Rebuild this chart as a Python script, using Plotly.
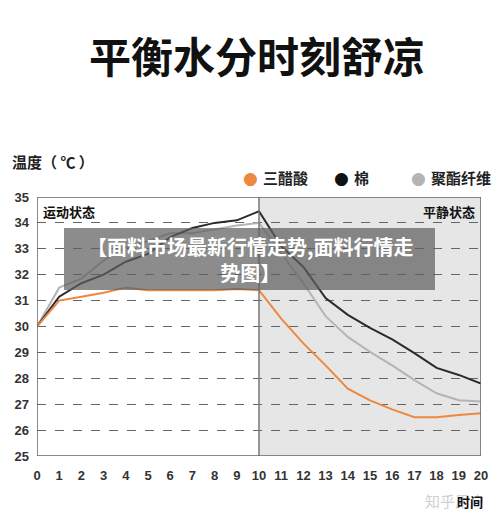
import plotly.graph_objects as go

time = list(range(0, 21))
triacetate = [30.0, 31.0, 31.15, 31.3, 31.5, 31.4, 31.4, 31.4, 31.4, 31.45, 31.4,
              30.3, 29.35, 28.5, 27.6, 27.15, 26.8, 26.5, 26.5, 26.58, 26.65]
cotton = [30.0, 31.15, 31.67, 32.0, 32.5, 32.8, 33.45, 33.8, 34.0, 34.1, 34.45,
          33.1, 32.3, 31.1, 30.45, 29.95, 29.5, 28.97, 28.4, 28.13, 27.8]
polyester = [30.0, 31.5, 31.85, 32.55, 33.05, 33.3, 33.6, 33.6, 33.75, 33.9, 34.0,
             32.85, 31.67, 30.4, 29.6, 29.02, 28.5, 27.93, 27.42, 27.15, 27.1]
series_names = ["三醋酸", "棉", "聚酯纤维"]
series_colors = ["#ec8840", "#2a2a2a", "#b4b4b4"]
y_ticks = list(range(25, 36))
x_ticks = list(range(0, 21))

FONT = "Noto Sans CJK SC"
W, H = 500, 520
L, R, T, B = 37, 19, 197, 64

fig = go.Figure()
fig.add_trace(go.Scatter(x=time, y=polyester, mode="lines",
                         line=dict(color=series_colors[2], width=2), name=series_names[2]))
fig.add_trace(go.Scatter(x=time, y=cotton, mode="lines",
                         line=dict(color=series_colors[1], width=2), name=series_names[1]))
fig.add_trace(go.Scatter(x=time, y=triacetate, mode="lines",
                         line=dict(color=series_colors[0], width=2), name=series_names[0]))


def px(x):
    return (x - L) / (W - L - R)


def py(y):
    return (H - B - y) / (H - T - B)


shapes = [
    dict(type="rect", xref="x", yref="y", x0=10, x1=20, y0=25, y1=35,
         fillcolor="#e6e6e6", line=dict(width=0), layer="below"),
    dict(type="line", xref="x", yref="y", x0=10, x1=10, y0=25, y1=35,
         line=dict(color="#777", width=1.5)),
    dict(type="rect", xref="x", yref="y", x0=0, x1=20, y0=25, y1=35,
         line=dict(color="#666", width=1.5)),
    dict(type="rect", xref="paper", yref="paper",
         x0=px(64), x1=px(435), y0=py(290), y1=py(228),
         fillcolor="rgba(95,95,95,0.72)", line=dict(width=0), layer="above"),
]


def A(text, x, y, size, color="#111", xanchor="center", family=FONT, align="center"):
    return dict(text=text, x=px(x), y=py(y), xref="paper", yref="paper",
                xanchor=xanchor, yanchor="middle", showarrow=False, align=align,
                font=dict(family=family, size=size, color=color))


ann = []
ann.append(A("<b>平衡水分时刻舒凉</b>", 257, 54, 42, "#111"))
ann.append(A("<b>温度（ ℃ ）</b>", 10, 161, 15, "#222", xanchor="left"))
legend_items = [(250, series_names[0], series_colors[0]), (341, series_names[1], "#111"),
                (418, series_names[2], series_colors[2])]
for x0, txt, col in legend_items:
    ann.append(A("●", x0, 178, 17, col, family="DejaVu Sans"))
    ann.append(A("<b>" + txt + "</b>", x0 + 11, 178, 15, "#222", xanchor="left"))
ann.append(A("<b>运动状态</b>", 41, 211, 13, "#111", xanchor="left"))
ann.append(A("<b>平静状态</b>", 477, 211, 13, "#111", xanchor="right"))
ann.append(A("<b>【面料市场最新行情走势,面料行情走<br>势图】</b>", 250, 259, 20, "white"))
ann.append(A("知乎用户", 455, 500, 15, "#d0d0d0"))
ann.append(A("<b>时间</b>", 470, 501, 13, "#111"))

fig.update_layout(
    width=W, height=H, margin=dict(l=L, r=R, t=T, b=B),
    paper_bgcolor="white", plot_bgcolor="white", showlegend=False,
    shapes=shapes, annotations=ann,
    xaxis=dict(range=[0, 20], tickvals=x_ticks, ticktext=[str(v) for v in x_ticks],
               showgrid=False, zeroline=False, showline=False, ticks="",
               ticklabelstandoff=10,
               tickfont=dict(family="Liberation Sans", size=13, color="#333", weight="bold")),
    yaxis=dict(range=[25, 35], tickvals=y_ticks, ticktext=[str(v) for v in y_ticks],
               showgrid=True, gridcolor="#666", griddash="dash", gridwidth=1,
               zeroline=False, showline=False, ticks="", ticklabelstandoff=7,
               tickfont=dict(family="Liberation Sans", size=13, color="#333", weight="bold")),
)

fig.write_html("out.html")
